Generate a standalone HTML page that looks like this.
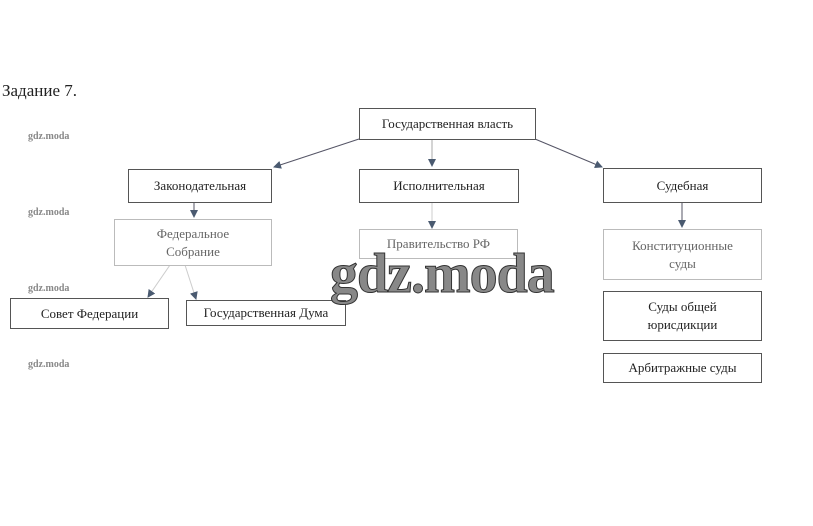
<!DOCTYPE html>
<html><head><meta charset="utf-8"><style>
body{margin:0;width:813px;height:526px;background:#fff;position:relative;overflow:hidden;font-family:"Liberation Serif",serif;color:#222}
.b{position:absolute;border:1px solid #555;box-sizing:border-box;display:flex;align-items:center;justify-content:center;text-align:center;font-size:13px;line-height:18px;background:#fff}
.l{border-color:#bbb;color:#666}
.w{position:absolute;font-size:10px;font-weight:bold;color:#888;left:28px}
</style></head><body>
<div style="position:absolute;left:2px;top:81px;font-size:17px">Задание 7.</div>
<div class="w" style="top:131px">gdz.moda</div>
<div class="w" style="top:207px">gdz.moda</div>
<div class="w" style="top:283px">gdz.moda</div>
<div class="w" style="top:359px">gdz.moda</div>
<svg width="813" height="526" style="position:absolute;left:0;top:0">
<defs><marker id="a" markerWidth="8" markerHeight="8" refX="7" refY="4" orient="auto"><path d="M0,0L8,4L0,8z" fill="#4a5a70"/></marker></defs>
<g stroke="#556" stroke-width="1" fill="none" marker-end="url(#a)">
<line x1="359" y1="139" x2="274" y2="167"/>
<line x1="432" y1="139" x2="432" y2="166" stroke="#aaa"/>
<line x1="535" y1="139" x2="602" y2="167"/>
<line x1="194" y1="202" x2="194" y2="217"/>
<line x1="682" y1="202" x2="682" y2="227"/>
<line x1="432" y1="202" x2="432" y2="228" stroke="#ccc"/>
<line x1="170" y1="265" x2="148" y2="297" stroke="#ccc"/>
<line x1="185" y1="265" x2="196" y2="299" stroke="#ccc"/>
</g></svg>
<div class="b" style="left:359px;top:108px;width:177px;height:32px">Государственная власть</div>
<div class="b" style="left:128px;top:169px;width:144px;height:34px">Законодательная</div>
<div class="b" style="left:359px;top:169px;width:160px;height:34px">Исполнительная</div>
<div class="b" style="left:603px;top:168px;width:159px;height:35px">Судебная</div>
<div class="b l" style="left:114px;top:219px;width:158px;height:47px">Федеральное<br>Собрание</div>
<div class="b l" style="left:359px;top:229px;width:159px;height:30px">Правительство РФ</div>
<div class="b l" style="left:603px;top:229px;width:159px;height:51px">Конституционные<br>суды</div>
<div class="b" style="left:603px;top:291px;width:159px;height:50px">Суды общей<br>юрисдикции</div>
<div class="b" style="left:603px;top:353px;width:159px;height:30px">Арбитражные суды</div>
<div class="b" style="left:10px;top:298px;width:159px;height:31px">Совет Федерации</div>
<div class="b" style="left:186px;top:300px;width:160px;height:26px">Государственная Дума</div>
<div style="position:absolute;left:330px;top:242px;font-size:56px;font-weight:bold;color:#888;letter-spacing:-1px;font-family:'Liberation Serif',serif;-webkit-text-stroke:1px #333;line-height:64px">gdz.moda</div>
</body></html>
